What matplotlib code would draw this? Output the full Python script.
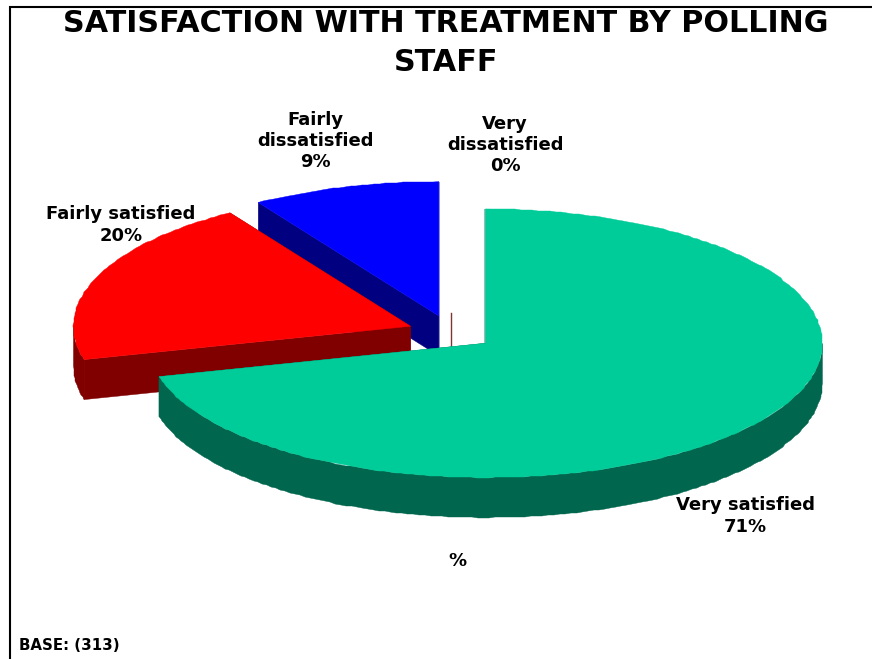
import numpy as np
import matplotlib
matplotlib.use("Agg")
import matplotlib.pyplot as plt

categories = ["Very satisfied", "Fairly satisfied", "Fairly dissatisfied", "Very dissatisfied"]
values = [71, 20, 9, 0]
top_colors = ["#00CC99", "#FF0000", "#0000FF", "#803333"]
side_colors = ["#00664D", "#800000", "#000080", "#803333"]
label_texts = ["Very satisfied\n71%", "Fairly satisfied\n20%", "Fairly\ndissatisfied\n9%", "Very\ndissatisfied\n0%"]
label_pos = [(745, 516), (121, 225), (315, 141), (505, 145)]

W, H = 872, 659
CX, CY, RX, RY, DEPTH, EXPLODE = 451.0, 332.6, 337, 134.3, 40, 43.6
FACET = 1.0  # degrees between outline vertices of the low-resolution pie

fig = plt.figure(figsize=(W / 100, H / 100), dpi=100, facecolor="white")
ax = fig.add_axes([0, 0, 1, 1])
ax.set_xlim(0, W)
ax.set_ylim(H, 0)
ax.axis("off")


def pt(cx, cy, deg, r=1.0):
    a = np.radians(deg)
    return cx + r * RX * np.sin(a), cy - r * RY * np.cos(a)


def outline(cx, cy, lo, hi):
    th = np.linspace(lo, hi, max(2, int((hi - lo) / FACET) + 1))
    x, y = pt(cx, cy, th)
    qx, qy = np.round(x), np.round(y)
    qx[0], qy[0], qx[-1], qy[-1] = x[0], y[0], x[-1], y[-1]
    return qx, qy


total = sum(values)
starts = np.concatenate([[0], np.cumsum(values)[:-1]]) / total * 360
sweeps = np.array(values) / total * 360

for i in reversed(range(len(values))):
    s, e = starts[i], starts[i] + sweeps[i]
    mid = (s + e) / 2
    cx, cy = pt(CX, CY, mid, r=EXPLODE / RX)
    top, side = top_colors[i], side_colors[i]
    if sweeps[i] == 0:
        # an empty slice shows only its inner edge
        ax.plot([cx, cx], [cy - 2, cy + DEPTH], color=side, lw=1.0, zorder=1)
        continue
    # radial cut faces
    for ang in (s, e):
        x, y = pt(cx, cy, ang)
        ax.fill([cx, x, x, cx], [cy, y, y + DEPTH, cy + DEPTH], fc=side, ec=side, lw=0.3)
    # outer rim (front half only)
    lo, hi = max(s, 90), min(e, 270)
    if hi > lo:
        x, y = outline(cx, cy, lo, hi)
        ax.fill(np.r_[x, x[::-1]], np.r_[y, y[::-1] + DEPTH], fc=side, ec=side, lw=0.3)
    # top face
    x, y = outline(cx, cy, s, e)
    ax.fill(np.r_[cx, x], np.r_[cy, y], fc=top, ec=top, lw=0.3)

ax.plot([10, 10, W], [H, 7, 7], color="black", lw=1.5, solid_joinstyle="miter", clip_on=False)

font = dict(family="DejaVu Sans", weight="bold", color="black")
ax.text(446, 43, "SATISFACTION WITH TREATMENT BY POLLING\nSTAFF", ha="center", va="center",
        fontsize=21.7, linespacing=1.45, **font)
for (x, y), t in zip(label_pos, label_texts):
    ax.text(x, y, t, ha="center", va="center", fontsize=13, linespacing=1.23, **font)
ax.text(457, 561, "%", ha="center", va="center", fontsize=13, **font)
ax.text(19, 646, "BASE: (313)", ha="left", va="center", fontsize=10.8, **font)

fig.savefig("out.png", dpi=100)
